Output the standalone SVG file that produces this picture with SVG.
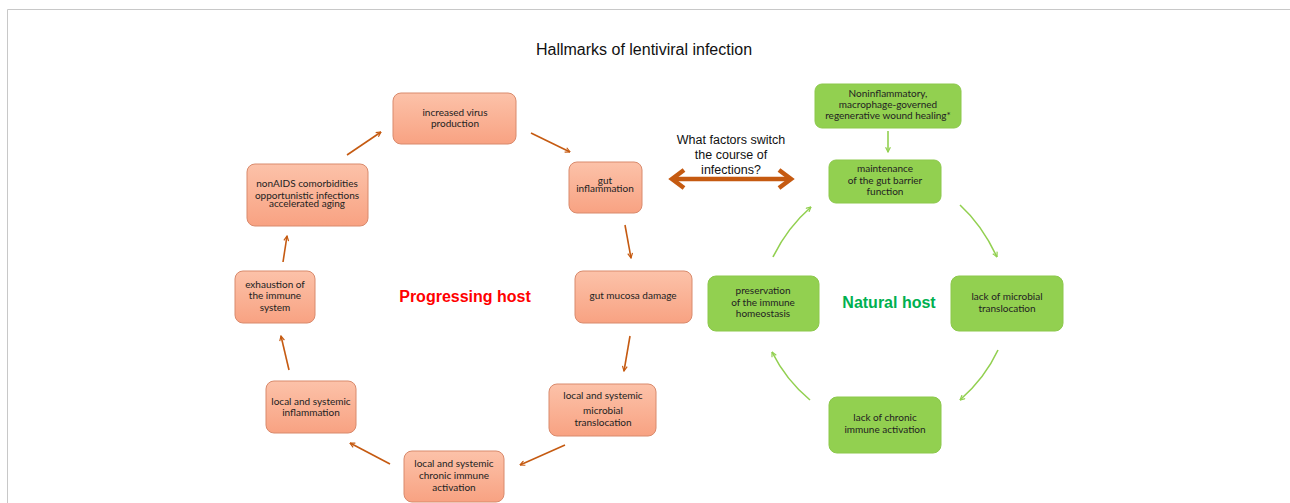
<svg xmlns="http://www.w3.org/2000/svg" width="1290" height="503" viewBox="0 0 1290 503">
<style>
.t{font-family:Lato,"Liberation Sans",sans-serif;font-size:10px;fill:#222;text-anchor:middle}
.o{fill:url(#og);stroke:#d98a6c;stroke-width:1}
.g{fill:#92d050;stroke:#8cc84b;stroke-width:1}
.oa{fill:none;stroke:#c55a11;stroke-width:1.6;marker-end:url(#ma)}
.ga{fill:none;stroke:#92d050;stroke-width:1.6;marker-end:url(#mg)}
</style>
<defs>
<linearGradient id="og" x1="0" y1="0" x2="0" y2="1">
<stop offset="0" stop-color="#fcc2a9"/>
<stop offset="1" stop-color="#f8a282"/>
</linearGradient>
<marker id="ma" viewBox="0 0 10 10" refX="9" refY="5" markerWidth="6" markerHeight="6" orient="auto" markerUnits="userSpaceOnUse">
<path d="M1,1 L9,5 L1,9" fill="none" stroke="#c55a11" stroke-width="2"/>
</marker>
<marker id="mg" viewBox="0 0 10 10" refX="9" refY="5" markerWidth="6" markerHeight="6" orient="auto" markerUnits="userSpaceOnUse">
<path d="M1,1 L9,5 L1,9" fill="none" stroke="#92d050" stroke-width="2"/>
</marker>
</defs>
<rect width="1290" height="503" fill="#fff"/>
<path d="M7.5,503 V9.5 H1290" fill="none" stroke="#c8c8c8" stroke-width="1"/>
<text x="644" y="55" font-family="Liberation Sans,sans-serif" font-size="16" text-anchor="middle" fill="#111">Hallmarks of lentiviral infection</text>

<g id="connectors">
<path class="oa" d="M347,155 L381,132"/>
<path class="oa" d="M531,133 L570,152"/>
<path class="oa" d="M625,225 L631,258"/>
<path class="oa" d="M630,336 L624,371"/>
<path class="oa" d="M565,445 L520,465"/>
<path class="oa" d="M390,464 L350,443"/>
<path class="oa" d="M289,370 L281,336"/>
<path class="oa" d="M283,262 L287,236"/>
<path class="ga" d="M888,131 L888,152"/>
<path class="ga" d="M960,205 Q982,225 997,257"/>
<path class="ga" d="M998,350 Q985,378 960,400"/>
<path class="ga" d="M810,400 Q786,380 772,352"/>
<path class="ga" d="M773,257 Q787,228 811,207"/>
<g id="double-arrow" fill="none" stroke="#c55a11" stroke-width="4.5" stroke-linejoin="miter">
<path d="M674,179 H789"/>
<path d="M684,170 L672,179 L684,188"/>
<path d="M779,170 L791,179 L779,188"/>
</g>
</g>

<g id="n-virus"><rect class="o" x="393" y="93" width="123" height="51" rx="8"/>
<text class="t" x="455" y="116">increased virus</text><text class="t" x="455" y="127">production</text></g>
<g id="n-gutinfl"><rect class="o" x="569" y="162" width="73" height="51" rx="8"/>
<text class="t" x="605" y="184">gut</text><text class="t" x="605" y="192">inflammation</text></g>
<g id="n-mucosa"><rect class="o" x="575" y="271" width="117" height="52" rx="8"/>
<text class="t" x="633" y="299">gut mucosa damage</text></g>
<g id="n-microbial"><rect class="o" x="549" y="384" width="107" height="52" rx="8"/>
<text class="t" x="603" y="399">local and systemic</text><text class="t" x="603" y="414">microbial</text><text class="t" x="603" y="426">translocation</text></g>
<g id="n-chronic"><rect class="o" x="404" y="451" width="100" height="51" rx="8"/>
<text class="t" x="454" y="467">local and systemic</text><text class="t" x="454" y="479">chronic immune</text><text class="t" x="454" y="491">activation</text></g>
<g id="n-inflam"><rect class="o" x="266" y="381" width="90" height="52" rx="8"/>
<text class="t" x="311" y="405">local and systemic</text><text class="t" x="311" y="416">inflammation</text></g>
<g id="n-exhaustion"><rect class="o" x="235" y="271" width="80" height="52" rx="8"/>
<text class="t" x="275" y="288">exhaustion of</text><text class="t" x="275" y="299">the immune</text><text class="t" x="275" y="311">system</text></g>
<g id="n-nonaids"><rect class="o" x="247" y="164" width="121" height="62" rx="8"/>
<text class="t" x="307" y="187">nonAIDS  comorbidities</text><text class="t" x="307" y="199">opportunistic infections</text><text class="t" x="307" y="207">accelerated aging</text></g>

<g id="n-wound"><rect class="g" x="815" y="84" width="146" height="44" rx="7"/>
<text class="t" x="888" y="97">Noninflammatory,</text><text class="t" x="888" y="108">macrophage-governed</text><text class="t" x="888" y="119">regenerative wound healing*</text></g>
<g id="n-barrier"><rect class="g" x="829" y="160" width="112" height="43" rx="7"/>
<text class="t" x="885" y="172">maintenance</text><text class="t" x="885" y="184">of the gut barrier</text><text class="t" x="885" y="195">function</text></g>
<g id="n-lackmicro"><rect class="g" x="951" y="276" width="112" height="55" rx="8"/>
<text class="t" x="1007" y="300">lack of microbial</text><text class="t" x="1007" y="312">translocation</text></g>
<g id="n-lackchronic"><rect class="g" x="829" y="397" width="112" height="56" rx="8"/>
<text class="t" x="885" y="421">lack of  chronic</text><text class="t" x="885" y="433">immune activation</text></g>
<g id="n-preserv"><rect class="g" x="708" y="276" width="111" height="55" rx="8"/>
<text class="t" x="763" y="294">preservation</text><text class="t" x="763" y="306">of the immune</text><text class="t" x="763" y="317">homeostasis</text></g>

<text x="465" y="302" font-family="Liberation Sans,sans-serif" font-size="16" font-weight="bold" fill="#ff0000" text-anchor="middle">Progressing host</text>
<text x="889" y="308" font-family="Liberation Sans,sans-serif" font-size="16" font-weight="bold" fill="#00b050" text-anchor="middle">Natural host</text>
<g font-family="Liberation Sans,sans-serif" font-size="12.5" fill="#111" text-anchor="middle">
<text x="731" y="144">What factors switch</text>
<text x="731" y="159">the course of</text>
<text x="731" y="174">infections?</text>
</g>
</svg>
